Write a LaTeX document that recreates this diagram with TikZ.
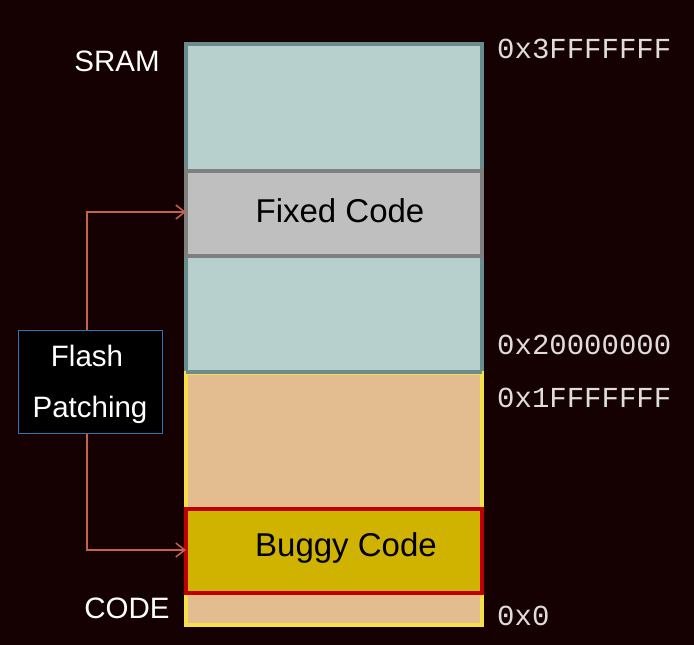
\documentclass[tikz,border=0pt]{standalone}
\usepackage{fontspec}
\setmainfont{Liberation Sans}
\newfontfamily\monofont{Liberation Mono}
\usetikzlibrary{arrows.meta}
\definecolor{bgc}{HTML}{150002}
\definecolor{sramfill}{HTML}{B8D0CD}
\definecolor{sramline}{HTML}{6A8C8C}
\definecolor{fixfill}{HTML}{BFBFBF}
\definecolor{fixline}{HTML}{7F7F7F}
\definecolor{codefill}{HTML}{E3BC90}
\definecolor{codeline}{HTML}{F5E04A}
\definecolor{bugfill}{HTML}{CFB300}
\definecolor{bugline}{HTML}{C00000}
\definecolor{arrc}{HTML}{C8604E}
\definecolor{flashline}{HTML}{2E75B6}
\definecolor{addrc}{HTML}{E0DCDC}
\tikzset{
  region/.style={inner sep=0pt, outer sep=0pt},
  lbl/.style={text=white, font=\fontsize{29.5}{31}\selectfont, inner sep=0pt},
  addr/.style={text=addrc, font=\monofont\fontsize{29}{30}\selectfont, anchor=west, inner sep=0pt},
  boxtxt/.style={text=black, font=\fontsize{33}{35}\selectfont, inner sep=0pt},
  patcharrow/.style={draw=arrc, line width=1.5pt, -{Straight Barb[length=9pt,width=14pt,line width=1.5pt]}},
}
\begin{document}
\begin{tikzpicture}[x=1pt,y=-1pt]
\fill[bgc] (0,0) rectangle (694,645);
\useasboundingbox (0,0) rectangle (694,645);
% SRAM region
\node[region, draw=sramline, fill=sramfill, line width=3.5pt, minimum width=296pt, minimum height=328pt, anchor=north west] (sram) at (186,44) {};
% Fixed code
\node[region, draw=fixline, fill=fixfill, line width=3.5pt, minimum width=296pt, minimum height=85pt, anchor=north west] (fixed) at (186,171) {};
\node[boxtxt] (fixedtxt) at (340,211) {Fixed Code};
% CODE region
\node[region, draw=codeline, fill=codefill, line width=3.5pt, minimum width=296pt, minimum height=252pt, anchor=north west] (code) at (186,373) {};
\draw[sramline, line width=3.5pt] (sram.south west) -- (sram.south east);
% Buggy code
\node[region, draw=bugline, fill=bugfill, line width=3.5pt, minimum width=296pt, minimum height=84pt, anchor=north west] (buggy) at (186,509) {};
\node[boxtxt] (buggytxt) at (346,548) {Buggy Code};
% labels
\node[lbl] (sramlbl) at (117,61) {SRAM};
\node[lbl] (codelbl) at (127,608) {CODE};
% addresses
\node[addr] (a1) at (497,49) {0x3FFFFFFF};
\node[addr] (a2) at (497,345) {0x20000000};
\node[addr] (a3) at (497,398) {0x1FFFFFFF};
\node[addr] (a4) at (497,616) {0x0};
% Flash patching
\node[draw=flashline, fill=black, line width=1.2pt, minimum width=144pt, minimum height=103pt, anchor=north west, inner sep=0pt] (flash) at (18,330) {};
\node[lbl] (f1) at (87,356) {Flash};
\node[lbl] (f2) at (90,410) {Patching};
\coordinate (tfix) at (fixed.west |- 0,212);
\coordinate (tbug) at (buggy.west |- 0,550);
\draw[patcharrow] (flash.north -| 87,0) |- (tfix);
\draw[patcharrow] (flash.south -| 87,0) |- (tbug);
\end{tikzpicture}
\end{document}
